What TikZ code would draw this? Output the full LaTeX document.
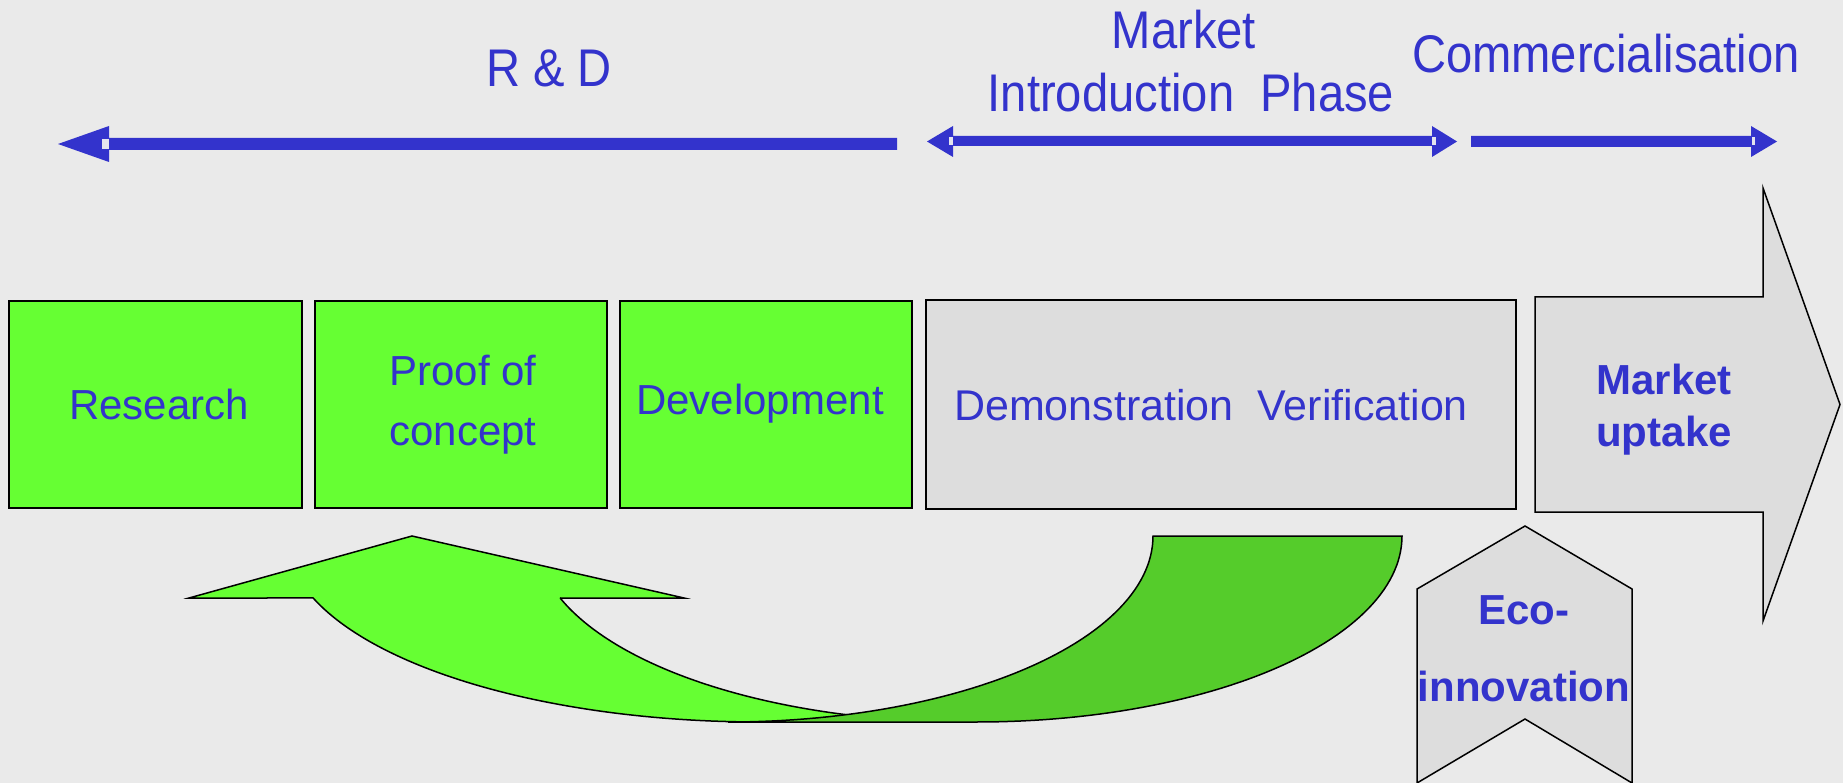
\documentclass[tikz,border=0pt]{standalone}
\usepackage{fontspec}
\setmainfont{Liberation Sans}
\newfontfamily\narrowfont[FakeStretch=0.89]{Liberation Sans}
\definecolor{myblue}{HTML}{3333CC}
\definecolor{bgcol}{HTML}{EAEAEA}
\definecolor{lgreen}{HTML}{66FF33}
\definecolor{dgreen}{HTML}{55CC2B}
\definecolor{lgrey}{HTML}{DDDDDD}
\definecolor{gapcol}{HTML}{E4E4EE}
\tikzset{
  gbox/.style={draw=black, line width=1.5pt, fill=lgreen, minimum height=207pt, inner sep=0pt},
  greybox/.style={gbox, fill=lgrey},
  boxtext/.style={text=myblue, align=center, inner sep=0pt, font=\fontsize{42}{60}\selectfont},
  toplabel/.style={text=myblue, anchor=base, inner sep=0pt, font=\narrowfont\fontsize{53}{60}\selectfont},
  blabel/.style={text=myblue, align=center, inner sep=0pt, font=\bfseries\fontsize{42}{52}\selectfont},
  shapeline/.style={draw=black, line width=1.5pt},
  bluearrow/.style={fill=myblue},
  gapbox/.style={fill=gapcol}
}
\begin{document}
\begin{tikzpicture}[x=1pt,y=-1pt]
\fill[bgcol] (0,0) rectangle (1843,783);
\useasboundingbox (0,0) rectangle (1843,783);

% top labels
\node[toplabel] (rd) at (549,87) {R \& D};
\node[toplabel] (mkt) at (1184,49) {Market};
\node[toplabel] (intro) at (1191,112) {Introduction\ \ Phase};
\node[toplabel] (comm) at (1606,73) {Commercialisation};

% blue arrows
\coordinate (a1tip) at (58,144);
\fill[bluearrow] (a1tip) -- (109,126) -- (109,138) -- (897,138) -- (897,150) -- (109,150) -- (109,162) -- cycle;
\fill[gapbox] (102,139) rectangle (109,149);

\coordinate (a2l) at (927,141.5);
\coordinate (a2r) at (1457,141.5);
\fill[bluearrow] (a2l) -- (953,126) -- (953,136) -- (1432,136) -- (1432,126) -- (a2r) -- (1432,157) -- (1432,146) -- (953,146) -- (953,157) -- cycle;
\fill[gapbox] (949,137.5) rectangle (953,145.5);
\fill[gapbox] (1432,137.5) rectangle (1436,145.5);

\coordinate (a3tip) at (1777,141.5);
\fill[bluearrow] (1471,136) -- (1751,136) -- (1751,126) -- (a3tip) -- (1751,157) -- (1751,147) -- (1471,147) -- cycle;
\fill[gapbox] (1751.5,137.5) rectangle (1755,145.5);

% boxes
\node[gbox, minimum width=293pt] (research) at (155.5,404.5) {};
\node[boxtext] (researchtext) at (159,404) {Research};
\node[gbox, minimum width=292pt] (proof) at (461,404.5) {};
\node[boxtext] (prooftext) at (463,404.5) {Proof of\\concept};
\node[gbox, minimum width=292pt] (dev) at (766,404.5) {};
\node[boxtext] (devtext) at (760,404) {Development};
\node[greybox, minimum width=590pt, minimum height=209pt] (demo) at (1221,404.5) {};
\node[boxtext, font=\fontsize{43}{60}\selectfont] (demotext) at (1211,405) {Demonstration\ \ Verification};

% market uptake arrow
\filldraw[shapeline, fill=lgrey] (1535,297) -- (1763,297) -- (1763,188) -- (1840,404.5) -- (1763,621) -- (1763,512) -- (1535,512) -- cycle;
\node[blabel] (uptake) at (1664,410) {Market\\uptake};

% eco-innovation chevron
\filldraw[shapeline, fill=lgrey] (1417,589) -- (1525,526) -- (1632,589) -- (1632,783) -- (1525,719) -- (1417,783) -- cycle;
\node[blabel, font=\bfseries\fontsize{42}{77}\selectfont] (eco) at (1524,649) {Eco-\\innovation};

% curved arrow: front
\filldraw[shapeline, fill=lgreen] (189,598) -- (412,536) -- (684,598) -- (560,598)
  -- plot[domain=160.53:90, samples=60, variable=\t] ({965.5+430*cos(\t)}, {536+186*sin(\t)})
  -- (760,722)
  -- plot[domain=90:160.53, samples=60, variable=\t] ({760+474*cos(\t)}, {536+186*sin(\t)})
  -- cycle;
% curved arrow: back
\filldraw[shapeline, fill=dgreen] (1153,536) -- (1402,536)
  -- plot[domain=0:90, samples=60, variable=\t] ({977+425*cos(\t)}, {536+186*sin(\t)})
  -- (728,722)
  -- plot[domain=90:0, samples=60, variable=\t] ({728+425*cos(\t)}, {536+186*sin(\t)})
  -- cycle;
\end{tikzpicture}
\end{document}
